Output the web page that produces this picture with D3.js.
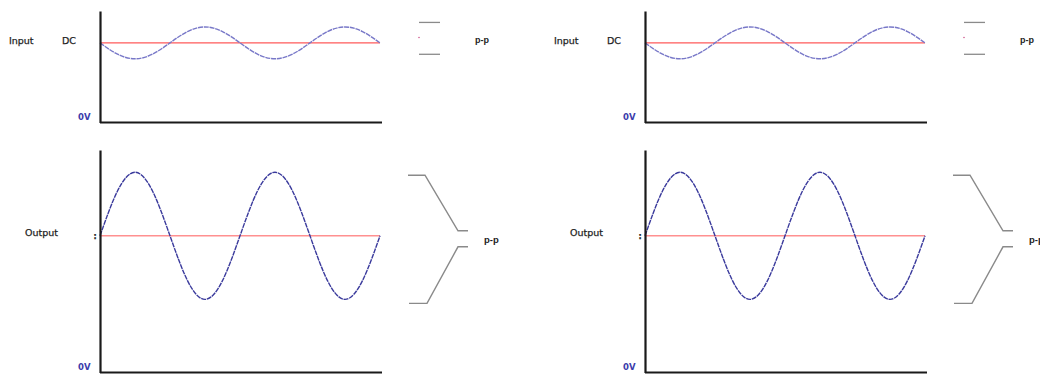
<!DOCTYPE html>
<html>
<head>
<meta charset="utf-8">
<script src="https://cdn.jsdelivr.net/npm/d3@7"></script>
<style>
  html, body { margin: 0; padding: 0; background: #fff; }
  svg { display: block; }
  text { font-family: "DejaVu Sans", Verdana, sans-serif; fill: #1e1e1e; stroke: #1e1e1e; stroke-width: 0.25px; }
</style>
</head>
<body>
<svg id="chart" width="1040" height="374"></svg>
<script>
// Time axis in cycles, sampled every 1/8 cycle
const phase = [0, 0.125, 0.25, 0.375, 0.5, 0.625, 0.75, 0.875, 1,
               1.125, 1.25, 1.375, 1.5, 1.625, 1.75, 1.875, 2];
// Input: small swing around the DC level
const inputV = [5, 4.29, 4, 4.29, 5, 5.71, 6, 5.71, 5,
                4.29, 4, 4.29, 5, 5.71, 6, 5.71, 5];
const inputDC = 5;
// Output: amplified and inverted swing around its DC level
const outputV = [4.3, 5.71, 6.3, 5.71, 4.3, 2.89, 2.3, 2.89, 4.3,
                 5.71, 6.3, 5.71, 4.3, 2.89, 2.3, 2.89, 4.3];
const outputDC = 4.3;
const voltDomain = [0, 7];
// Horizontal offsets of the two identical panels
const panelOffsets = [0, 545];

const svg = d3.select("#chart");

function drawScope(g, opts) {
  const x = d3.scaleLinear().domain([0, 2]).range([100, 380]);
  const y = d3.scaleLinear().domain(voltDomain).range([opts.bottom, opts.top]);

  // red DC reference line
  g.append("line")
    .attr("x1", x(0)).attr("x2", x(2))
    .attr("y1", y(opts.dc)).attr("y2", y(opts.dc))
    .attr("stroke", opts.dcColor).attr("stroke-width", opts.dcWidth);

  // waveform
  const line = d3.line()
    .x((d, i) => x(phase[i]))
    .y(d => y(d))
    .curve(d3.curveNatural);
  g.append("path")
    .datum(opts.values)
    .attr("d", line)
    .attr("fill", "none")
    .attr("stroke", opts.waveColor)
    .attr("stroke-width", 1.4)
    .attr("stroke-dasharray", "5 0.8");

  // axes without ticks
  const ya = g.append("g").attr("transform", `translate(${x(0)},0)`)
    .call(d3.axisLeft(y).ticks(0).tickSizeOuter(0));
  const xa = g.append("g").attr("transform", `translate(0,${y(0)})`)
    .call(d3.axisBottom(x).ticks(0).tickSizeOuter(0));
  [ya, xa].forEach(a => a.select(".domain")
    .attr("stroke", "#1a1a1a").attr("stroke-width", 2.2));
  xa.select(".domain").attr("d", `M${x(0)},0H${x(2) + 2}`);

  // 0V label
  g.append("text")
    .attr("x", 78).attr("y", y(0) - 2.5)
    .style("font-size", "8.5px").style("font-weight", "bold")
    .style("fill", "#3b3bab").style("stroke", "none")
    .text("0V");
  return { x, y };
}

panelOffsets.forEach(off => {
  const g = svg.append("g").attr("transform", `translate(${off},0)`);

  // Input scope
  const inp = drawScope(g, {
    values: inputV, dc: inputDC, top: 11, bottom: 122.5,
    waveColor: "#7878c8", dcColor: "#ff5a5a", dcWidth: 1.1
  });
  g.append("text").attr("x", 9).attr("y", 43.5)
    .style("font-size", "9.5px").text("Input");
  g.append("text").attr("x", 62).attr("y", 43.5)
    .style("font-size", "9.5px").text("DC");

  // input peak-to-peak marks
  [inp.y(6), inp.y(4)].forEach(yy => {
    g.append("line").attr("x1", 419).attr("x2", 440)
      .attr("y1", yy - 4.5).attr("y2", yy - 4.5)
      .attr("stroke", "#8a8a8a").attr("stroke-width", 1.3);
  });
  g.append("circle").attr("cx", 419).attr("cy", 37.5).attr("r", 0.8)
    .attr("fill", "#d05a90");
  g.append("text").attr("x", 475).attr("y", 43)
    .style("font-family", "'Liberation Sans', Arial, sans-serif")
    .style("font-size", "9px").style("font-weight", "bold").style("stroke", "none")
    .text("p-p");

  // Output scope
  const out = drawScope(g, {
    values: outputV, dc: outputDC, top: 150, bottom: 372.5,
    waveColor: "#3a3a9c", dcColor: "#ff9090", dcWidth: 1.5
  });
  g.append("text").attr("x", 25).attr("y", 236)
    .style("font-size", "9.5px").text("Output");
  g.append("text").attr("x", 93.5).attr("y", 239)
    .style("font-size", "8px").style("font-weight", "bold").text(":");

  // output peak-to-peak brace
  const top = out.y(6.3) + 3, bot = out.y(2.3) + 4;
  const dc = out.y(outputDC);
  const brace = d3.line();
  g.append("path")
    .attr("d", brace([[408, top], [425, top], [458, dc - 5], [468, dc - 5]]))
    .attr("fill", "none").attr("stroke", "#8a8a8a").attr("stroke-width", 1.4);
  g.append("path")
    .attr("d", brace([[468, dc + 11], [458, dc + 11], [427, bot], [409, bot]]))
    .attr("fill", "none").attr("stroke", "#8a8a8a").attr("stroke-width", 1.4);
  g.append("text").attr("x", 484).attr("y", 243)
    .style("font-family", "'Liberation Sans', Arial, sans-serif")
    .style("font-size", "9.5px").style("font-weight", "bold").style("stroke", "none")
    .text("p-p");
});
</script>
</body>
</html>
